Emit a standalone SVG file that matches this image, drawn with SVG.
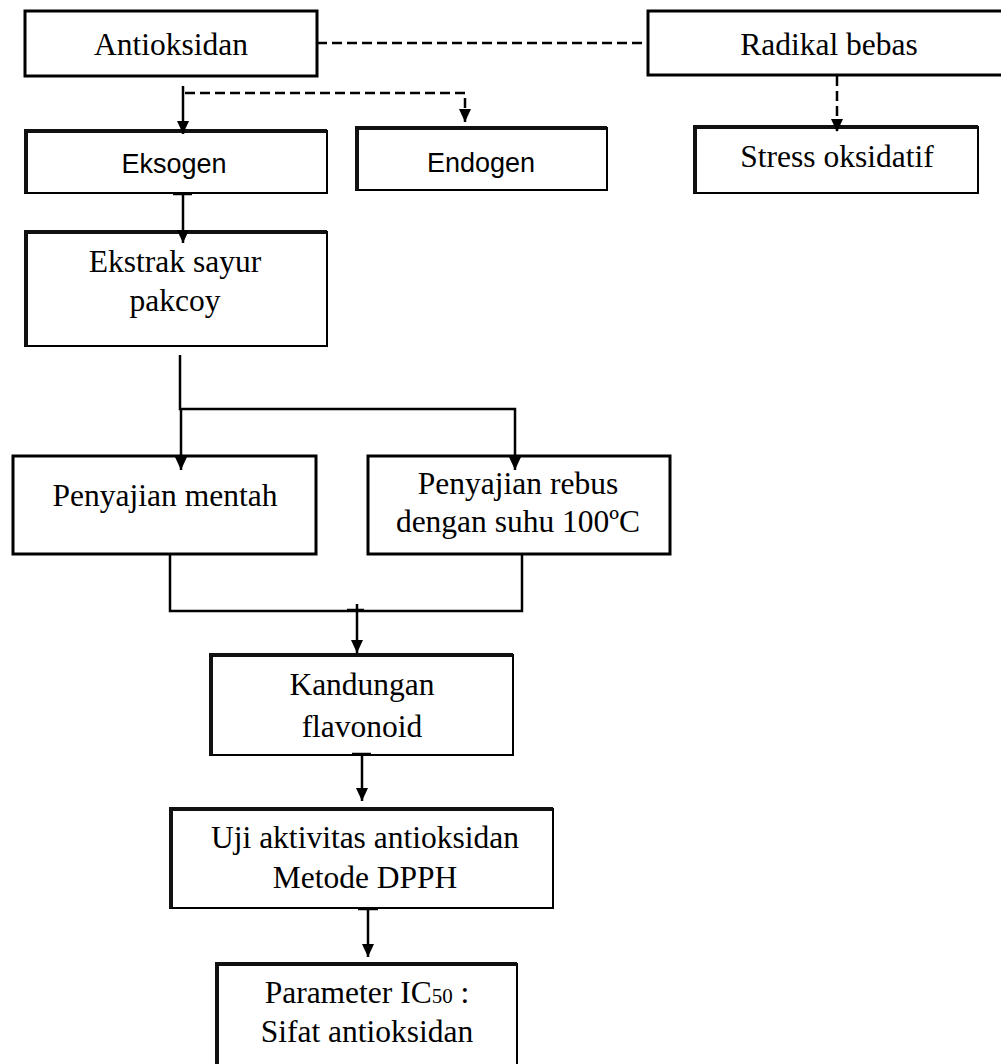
<svg xmlns="http://www.w3.org/2000/svg" width="1001" height="1064" viewBox="0 0 1001 1064">
<style>
.bg{fill:#fff}
.box{fill:#fff;stroke:#000;stroke-width:3}
.box2{fill:#fff;stroke:#000;stroke-width:2}
.sh{fill:none;stroke:#111;stroke-width:4}
.t{font-family:"Liberation Serif","Times New Roman",serif;font-size:31.5px;fill:#000;text-anchor:middle}
.s{font-family:"Liberation Sans",Arial,sans-serif;font-size:27px;fill:#000;text-anchor:middle}
.c{fill:none;stroke:#000;stroke-width:2.5}
.d{fill:none;stroke:#000;stroke-width:2.5;stroke-dasharray:10 5}
</style>
<defs>
<marker id="a" markerUnits="userSpaceOnUse" markerWidth="14" markerHeight="12" refX="13" refY="6" orient="auto" viewBox="0 0 14 12">
<path d="M0,0 L13,6 L0,12 z" fill="#000"/>
</marker>
</defs>
<rect class="bg" width="1001" height="1064"/>

<g id="antioksidan">
<rect class="box" x="25" y="11" width="292" height="65"/>
<text class="t" x="171" y="55">Antioksidan</text>
</g>
<g id="radikal-bebas">
<rect class="box" x="648" y="11" width="360" height="64"/>
<text class="t" x="829" y="55">Radikal bebas</text>
</g>
<g id="eksogen">
<rect class="box2" x="25" y="131" width="302" height="62"/>
<path class="sh" d="M26,193 V131 H327"/>
<text class="s" x="174" y="173">Eksogen</text>
</g>
<g id="endogen">
<rect class="box2" x="356" y="128" width="251" height="62"/>
<path class="sh" d="M357,190 V128 H607"/>
<text class="s" x="481" y="172">Endogen</text>
</g>
<g id="stress-oksidatif">
<rect class="box2" x="694" y="127" width="284" height="66"/>
<path class="sh" d="M695,193 V127 H978"/>
<text class="t" x="837" y="167">Stress oksidatif</text>
</g>
<g id="ekstrak">
<rect class="box2" x="25" y="232" width="302" height="114"/>
<path class="sh" d="M26,346 V232 H327"/>
<text class="t" x="175" y="272">Ekstrak sayur</text>
<text class="t" x="175" y="311">pakcoy</text>
</g>
<g id="penyajian-mentah">
<rect class="box" x="13" y="456" width="303" height="98"/>
<text class="t" x="165" y="506">Penyajian mentah</text>
</g>
<g id="penyajian-rebus">
<rect class="box" x="368" y="456" width="302" height="98"/>
<text class="t" x="518" y="494">Penyajian rebus</text>
<text class="t" x="518" y="532">dengan suhu 100ºC</text>
</g>
<g id="kandungan">
<rect class="box2" x="210" y="655" width="303" height="100"/>
<path class="sh" d="M211,755 V655 H513"/>
<text class="t" x="362" y="695">Kandungan</text>
<text class="t" x="362" y="737">flavonoid</text>
</g>
<g id="uji">
<rect class="box2" x="170" y="809" width="383" height="99"/>
<path class="sh" d="M171,908 V809 H553"/>
<text class="t" x="365" y="848">Uji aktivitas antioksidan</text>
<text class="t" x="365" y="888">Metode DPPH</text>
</g>
<g id="parameter">
<rect class="box2" x="216" y="964" width="301" height="110"/>
<path class="sh" d="M217,1074 V964 H517"/>
<text class="t" x="367" y="1003">Parameter IC<tspan font-size="21px">50</tspan> :</text>
<text class="t" x="367" y="1042">Sifat antioksidan</text>
</g>

<g id="connectors">
<path class="d" d="M317,43 H648"/>
<path class="c" d="M183,86 V134" marker-end="url(#a)"/>
<path class="d" d="M185,93 H465 V122" marker-end="url(#a)"/>
<path class="d" d="M837,76 V132" marker-end="url(#a)"/>
<path class="c" d="M173,194 H192"/>
<path class="c" d="M183,194 V243" marker-end="url(#a)"/>
<path class="c" d="M180,355 V409 H515 V470" marker-end="url(#a)"/>
<path class="c" d="M181,409 V470" marker-end="url(#a)"/>
<path class="c" d="M170,554 V611 H522 V554"/>
<path class="c" d="M347,610 H364"/>
<path class="c" d="M357,604 V653" marker-end="url(#a)"/>
<path class="c" d="M352,754 H371"/>
<path class="c" d="M362,754 V801" marker-end="url(#a)"/>
<path class="c" d="M358,909 H378"/>
<path class="c" d="M368,909 V957" marker-end="url(#a)"/>
</g>
</svg>
